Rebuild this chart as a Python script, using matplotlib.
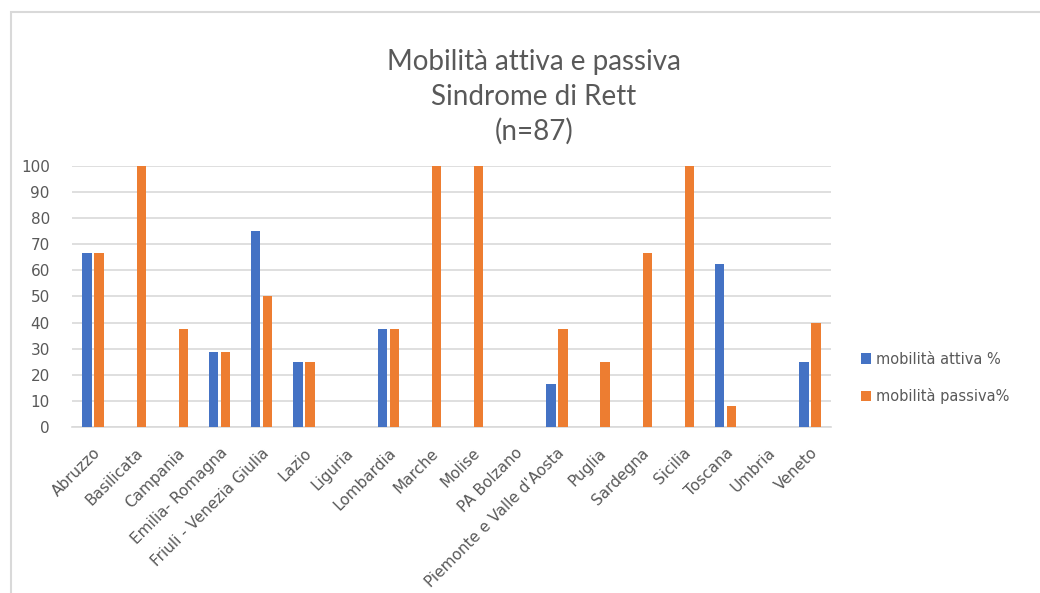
import matplotlib
matplotlib.use("Agg")
import matplotlib.pyplot as plt
import numpy as np
from matplotlib.patches import Rectangle

regions = ["Abruzzo", "Basilicata", "Campania", "Emilia- Romagna",
           "Friuli - Venezia Giulia", "Lazio", "Liguria", "Lombardia",
           "Marche", "Molise", "PA Bolzano", "Piemonte e Valle d'Aosta",
           "Puglia", "Sardegna", "Sicilia", "Toscana", "Umbria", "Veneto"]
attiva = [66.7, 0, 0, 28.6, 75, 25, 0, 37.5, 0, 0, 0, 16.7, 0, 0, 0, 62.5, 0, 25]
passiva = [66.7, 100, 37.5, 28.6, 50, 25, 0, 37.5, 100, 100, 0, 37.5, 25, 66.7, 100, 8.3, 0, 40]
series_labels = ["mobilità attiva %", "mobilità passiva%"]
title_lines = ["Mobilità attiva e passiva", "Sindrome di Rett", "(n=87)"]
yticks = list(range(0, 101, 10))

BLUE = "#4472C4"
ORANGE = "#ED7D31"
GRAY_TXT = "#595959"
GRID = "#D9D9D9"
FONT = "DejaVu Sans"
TFONT = "Lato"

W, H = 1040, 593
fig = plt.figure(figsize=(W / 100, H / 100), dpi=100)
fig.patch.set_facecolor("white")

# chart border
fig.add_artist(Rectangle((10.5 / W, -0.05), 1.2, 1 - 12 / H + 0.05,
                         transform=fig.transFigure, fill=False,
                         edgecolor="#D9D9D9", linewidth=1.5))

ax = fig.add_axes([72 / W, 1 - 427.3 / H, (831 - 72) / W, (427.3 - 165.7) / H])
x = np.arange(len(regions))
bw = 0.224
gap = 0.06
ax.bar(x - (bw + gap) / 2, attiva, width=bw, color=BLUE, label=series_labels[0], zorder=3)
ax.bar(x + (bw + gap) / 2, passiva, width=bw, color=ORANGE, label=series_labels[1], zorder=3)

ax.set_xlim(-0.5, len(regions) - 0.5)
ax.set_ylim(0, 100)
ax.set_yticks(yticks)
ax.set_yticklabels([str(v) for v in yticks], fontsize=11, color=GRAY_TXT, family=FONT)
ax.grid(axis="y", color=GRID, linewidth=1.2, zorder=0)
for s in ["top", "right", "left"]:
    ax.spines[s].set_visible(False)
ax.spines["bottom"].set_color(GRID)
ax.spines["bottom"].set_linewidth(1.2)
ax.tick_params(axis="both", length=0)
ax.tick_params(axis="y", pad=16)
ax.set_xticks(x)
ax.set_xticklabels(regions, rotation=45, ha="right", va="top",
                   rotation_mode="anchor", fontsize=11, color=GRAY_TXT, family=FONT)
ax.tick_params(axis="x", pad=13)

for i, (t, yy) in enumerate(zip(title_lines, [62, 97, 131])):
    fig.text(534 / W, 1 - yy / H, t, ha="center", va="center",
             fontsize=20, color=GRAY_TXT, family=TFONT)

fig.legend(loc="center left", bbox_to_anchor=(861 / W, 1 - 378 / H),
           frameon=False, handlelength=0.7, handleheight=0.7,
           handletextpad=0.35, labelspacing=1.5, borderpad=0, borderaxespad=0,
           prop={"family": FONT, "size": 10.5}, labelcolor=GRAY_TXT)

fig.savefig("out.png", dpi=100)
